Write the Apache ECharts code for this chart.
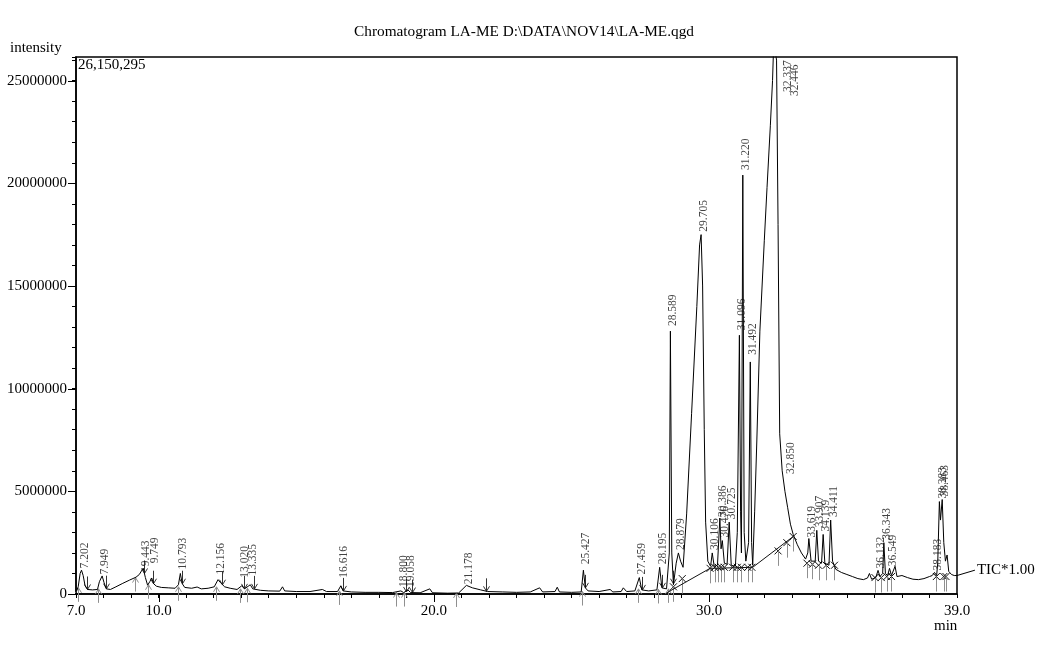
<!DOCTYPE html>
<html><head><meta charset="utf-8">
<script src="https://cdn.jsdelivr.net/npm/echarts@6/dist/echarts.min.js"></script>
<style>html,body{margin:0;padding:0;background:#fff}#c{width:1048px;height:647px}</style>
</head><body><div id="c"></div>
<script>
// ---- data (intensity values in millions of counts) ----
const traceTime = [7.00,7.08,7.15,7.20,7.26,7.33,7.42,7.60,7.78,7.85,7.95,8.02,8.10,8.25,8.45,8.70,8.95,9.18,9.30,9.44,9.52,9.60,9.68,9.75,9.82,9.92,10.10,10.35,10.60,10.72,10.79,10.86,10.95,11.20,11.40,11.55,11.80,12.02,12.16,12.25,12.40,12.60,12.85,13.02,13.12,13.33,13.42,13.70,14.00,14.40,14.50,14.58,15.00,15.50,15.95,16.10,16.50,16.62,16.70,17.00,17.50,18.00,18.50,18.80,18.90,19.06,19.15,19.50,19.85,19.95,20.50,20.90,21.18,21.40,21.70,21.95,22.50,23.00,23.50,23.84,23.95,24.40,24.48,24.56,25.00,25.35,25.43,25.50,25.60,26.00,26.40,26.50,26.80,26.88,27.00,27.30,27.46,27.55,27.80,28.10,28.20,28.28,28.45,28.55,28.59,28.64,28.70,28.80,28.88,28.96,29.05,29.18,29.36,29.55,29.65,29.705,29.76,29.82,29.87,29.95,30.05,30.11,30.18,30.30,30.386,30.43,30.476,30.55,30.65,30.725,30.80,30.95,31.02,31.096,31.14,31.17,31.22,31.27,31.33,31.43,31.492,31.54,31.58,31.65,31.73,31.84,32.00,32.10,32.22,32.30,32.337,32.40,32.446,32.50,32.56,32.65,32.75,32.85,32.95,33.05,33.20,33.35,33.50,33.58,33.619,33.70,33.85,33.907,33.97,34.08,34.139,34.20,34.35,34.411,34.48,34.60,34.80,35.00,35.20,35.40,35.60,35.75,35.82,35.90,36.05,36.132,36.20,36.30,36.343,36.40,36.48,36.549,36.62,36.75,36.82,37.00,37.20,37.40,37.60,37.80,38.00,38.10,38.183,38.26,38.30,38.36,38.40,38.463,38.52,38.58,38.64,38.70,38.80,38.90,39.00];
const traceInt = [0.10,0.35,1.00,1.16,0.90,0.40,0.22,0.20,0.22,0.60,0.88,0.55,0.25,0.22,0.35,0.52,0.68,0.82,0.95,1.26,0.80,0.43,0.60,0.78,0.50,0.38,0.32,0.30,0.28,0.45,1.00,0.50,0.32,0.28,0.34,0.25,0.28,0.35,0.70,0.55,0.35,0.28,0.22,0.40,0.25,0.45,0.25,0.18,0.15,0.14,0.35,0.15,0.12,0.12,0.22,0.12,0.12,0.40,0.15,0.10,0.08,0.08,0.07,0.15,0.07,0.20,0.07,0.06,0.25,0.06,0.04,0.05,0.42,0.30,0.20,0.12,0.10,0.08,0.10,0.30,0.10,0.12,0.33,0.10,0.08,0.10,1.16,0.30,0.15,0.12,0.22,0.10,0.12,0.30,0.12,0.15,0.80,0.20,0.15,0.20,1.30,0.30,0.25,2.0,12.8,2.0,0.45,1.5,2.0,1.6,1.3,3.9,8.8,14.0,17.0,17.5,15.0,8.0,3.5,1.6,1.35,2.0,1.35,1.4,3.7,2.2,2.6,1.5,1.45,3.5,1.4,1.35,3.0,12.6,4.0,2.0,20.4,3.0,1.6,2.5,11.3,2.5,1.4,4.0,7.5,12.8,17.2,19.8,22.8,25.0,26.6,26.4,26.0,18.0,7.8,6.0,5.0,4.2,3.4,2.9,2.4,2.0,1.7,2.0,2.7,1.6,1.6,3.1,1.6,1.5,2.9,1.5,1.4,3.6,1.6,1.2,1.05,0.95,0.85,0.75,0.70,0.78,1.00,0.72,0.80,1.15,0.85,1.0,2.5,1.0,0.90,1.25,0.90,1.35,0.85,0.90,0.80,0.72,0.70,0.75,0.85,0.90,1.05,0.90,1.5,4.5,3.6,4.6,2.5,1.6,1.9,1.1,0.95,0.90,0.90];

const peakTimes = [7.202,7.949,9.443,9.749,10.793,12.156,13.020,13.335,16.616,18.800,19.058,21.178,25.427,27.459,28.195,28.589,28.879,29.705,30.106,30.386,30.476,30.725,31.096,31.220,31.492,32.337,32.446,32.850,33.619,33.907,34.139,34.411,36.132,36.343,36.549,38.183,38.383,38.463];
const peakLabelAt = [1.1,0.8,1.2,1.35,1.05,0.8,0.65,0.75,0.65,0.2,0.2,0.33,1.3,0.8,1.3,12.9,2.0,17.5,2.0,3.6,2.6,3.5,12.7,20.5,11.5,24.3,24.1,5.7,2.6,3.1,2.9,3.6,1.1,2.5,1.2,1.0,4.5,4.6];

const baseTime = [28.45,30.03,31.58,33.05];
const baseInt = [0.05,1.25,1.3,2.8];

const markTime = [28.70,29.02,30.03,30.20,30.33,30.43,30.55,30.85,31.02,31.17,31.40,31.55,32.50,32.82,33.05,33.55,33.75,33.97,34.25,34.55,36.02,36.25,36.45,36.62,38.25,38.52,38.60];
const markInt = [0.35,0.75,1.25,1.3,1.3,1.3,1.3,1.3,1.3,1.3,1.3,1.3,2.1,2.5,2.8,1.5,1.45,1.4,1.4,1.4,0.8,0.8,0.85,0.85,0.85,0.85,0.85];

const upTime = [7.07,7.80,9.15,9.62,10.70,12.08,12.96,13.22,16.56,18.62,18.90,20.80,25.37,27.40,28.13,28.50];
const upInt = [0.30,0.25,0.80,0.45,0.35,0.35,0.25,0.28,0.15,0.07,0.07,0.05,0.12,0.25,0.22,0.25];
const downTime = [7.41,8.08,9.47,9.80,10.86,12.30,13.10,13.45,16.68,19.00,19.20,21.90,25.50,27.55,28.30,28.67];
const downInt = [0.22,0.26,1.00,0.50,0.50,0.45,0.25,0.25,0.15,0.10,0.07,0.13,0.30,0.20,0.30,0.50];

const xLabelTicks = [7,10,20,30,39];
const xMajor = [10,20,30];
const yMajor = [0,5000000,10000000,15000000,20000000,25000000];
const yMax = 26150295;
const ticEnd = [39.65,1.16];

// ---- build ----
const M = 1e6;
const pair = (ts, vs) => ts.map((t,i)=>[t, vs[i]*M]);
const FONT = '"Liberation Serif","Times New Roman",serif';
// label shift to the right (screen px) for the clipped top peaks
const labelShift = {'32.337':14,'32.446':18};

function upArrow(params, api){
  const p = api.coord([api.value(0), api.value(1)]);
  const x = Math.round(p[0])+0.5, y = p[1];
  const st = {stroke:'#8f8f8f', lineWidth:1, fill:null};
  return {type:'group', children:[
    {type:'line', shape:{x1:x,y1:y,x2:x,y2:y+14}, style:st},
    {type:'polyline', shape:{points:[[x-3,y+5],[x,y],[x+3,y+5]]}, style:st}
  ]};
}
function downArrow(params, api){
  const p = api.coord([api.value(0), api.value(1)]);
  const x = Math.round(p[0])+0.5, y = p[1];
  const st = {stroke:'#333', lineWidth:1, fill:null};
  return {type:'group', children:[
    {type:'line', shape:{x1:x,y1:y,x2:x,y2:y-13}, style:st},
    {type:'polyline', shape:{points:[[x-3,y-5],[x,y],[x+3,y-5]]}, style:st}
  ]};
}
function xMark(params, api){
  const p = api.coord([api.value(0), api.value(1)]);
  const x = p[0], y = p[1], s = 3.5;
  const st = {stroke:'#111', lineWidth:1};
  const stg = {stroke:'#8f8f8f', lineWidth:1};
  return {type:'group', children:[
    {type:'line', shape:{x1:x-s,y1:y-s,x2:x+s,y2:y+s}, style:st},
    {type:'line', shape:{x1:x-s,y1:y+s,x2:x+s,y2:y-s}, style:st},
    {type:'line', shape:{x1:Math.round(x)+0.5,y1:y,x2:Math.round(x)+0.5,y2:y+15}, style:stg}
  ]};
}
function xTick(params, api){
  const p = api.coord([api.value(0), api.value(1)]);
  const x = Math.round(p[0])+0.5;
  return {type:'line', shape:{x1:x,y1:p[1],x2:x,y2:p[1]+8}, style:{stroke:'#000', lineWidth:1}};
}
function yTick(params, api){
  const p = api.coord([api.value(0), api.value(1)]);
  const y = Math.round(p[1])+0.5;
  return {type:'line', shape:{x1:p[0]-8,y1:y,x2:p[0],y2:y}, style:{stroke:'#000', lineWidth:1}};
}
// connector from trace end to the "TIC*1.00" text
function ticLabel(params, api){
  const a = api.coord([traceTime[traceTime.length-1], traceInt[traceInt.length-1]*M]);
  const b = api.coord([api.value(0), api.value(1)]);
  return {type:'group', children:[
    {type:'line', shape:{x1:a[0],y1:a[1],x2:b[0],y2:b[1]}, style:{stroke:'#000', lineWidth:1}},
    {type:'text', x:b[0]+2, y:b[1], style:{text:'TIC*1.00', font:'15px '+FONT, fill:'#000', verticalAlign:'middle', align:'left'}}
  ]};
}

const peakData = peakTimes.map((t,i)=>{
  const key = t.toFixed(3);
  const shift = labelShift[key] || 3;
  // label is rotated 90deg: local y offset moves it to the right on screen
  return {value:[t, peakLabelAt[i]*M], label:{offset:[0, shift]}};
});

const option = {
  animation:false,
  backgroundColor:'#fff',
  title:{text:'Chromatogram LA-ME D:\\DATA\\NOV14\\LA-ME.qgd', left:'center', top:24, padding:0,
    textStyle:{fontFamily:FONT, fontSize:15.3, fontWeight:'normal', color:'#000'}},
  grid:{left:76, right:91, top:57, bottom:53, show:true, borderColor:'#000', borderWidth:1.5, backgroundColor:'transparent'},
  xAxis:{type:'value', min:7, max:39, interval:1,
    axisLine:{lineStyle:{color:'#000', width:1.5}},
    axisTick:{length:4, lineStyle:{color:'#000'}},
    splitLine:{show:false},
    axisLabel:{fontFamily:FONT, fontSize:15, color:'#000', margin:10, showMinLabel:true, showMaxLabel:true,
      formatter:v => xLabelTicks.some(t=>Math.abs(t-v)<1e-6) ? v.toFixed(1) : ''}},
  yAxis:{type:'value', min:0, max:yMax, interval:1000000,
    axisLine:{show:true, lineStyle:{color:'#000', width:1.5}},
    axisTick:{show:true, length:4, lineStyle:{color:'#000'}},
    splitLine:{show:false},
    axisLabel:{fontFamily:FONT, fontSize:15, color:'#000', margin:9,
      formatter:v => yMajor.indexOf(v) >= 0 ? String(v) : ''}},
  graphic:[
    {type:'text', left:10, top:41, style:{text:'intensity', font:'15px '+FONT, fill:'#000'}},
    {type:'text', left:78, top:58, style:{text:'26,150,295', font:'15px '+FONT, fill:'#000'}},
    {type:'text', left:934, top:619, style:{text:'min', font:'15px '+FONT, fill:'#000'}}
  ],
  series:[
    {type:'custom', name:'xmajor', renderItem:xTick, data:xMajor.map(t=>[t,0]), clip:false, silent:true, z:5},
    {type:'custom', name:'ymajor', renderItem:yTick, data:yMajor.map(v=>[7,v]), clip:false, silent:true, z:5},
    {type:'line', name:'baseline', data:pair(baseTime, baseInt), showSymbol:false, symbol:'none',
      lineStyle:{color:'#111', width:1}, z:3},
    {type:'custom', name:'marks', renderItem:xMark, data:pair(markTime, markInt), clip:false, silent:true, z:3},
    {type:'custom', name:'up', renderItem:upArrow, data:pair(upTime, upInt), clip:false, silent:true, z:3},
    {type:'custom', name:'down', renderItem:downArrow, data:pair(downTime, downInt), clip:false, silent:true, z:3},
    {type:'line', name:'TIC', data:pair(traceTime, traceInt), showSymbol:false, symbol:'none',
      lineStyle:{color:'#000', width:1}, z:4},
    {type:'custom', name:'ticlabel', renderItem:ticLabel, data:[[ticEnd[0], ticEnd[1]*M]], clip:false, silent:true, z:4},
    {type:'scatter', name:'peaks', data:peakData, symbolSize:0, silent:true, z:6, clip:false,
      label:{show:true, position:'top', distance:3, rotate:90, align:'left', verticalAlign:'middle',
        fontFamily:FONT, fontSize:11.5, color:'#111',
        formatter:p => p.value[0].toFixed(3)}}
  ]
};
const chart = echarts.init(document.getElementById('c'), null, {renderer:'canvas'});
chart.setOption(option);
</script>
</body></html>
